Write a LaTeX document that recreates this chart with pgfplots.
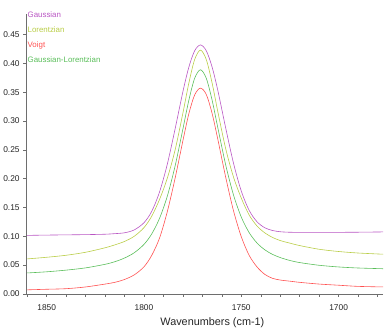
\documentclass[border=0pt]{standalone}
\usepackage{pgfplots}
\pgfplotsset{compat=1.18}
\usepackage{pgfplotstable}
\usepackage{fontspec}
\setmainfont{Liberation Sans}
\definecolor{gausscol}{RGB}{185,85,195}
\definecolor{lorcol}{RGB}{185,205,70}
\definecolor{voigtcol}{RGB}{255,80,80}
\definecolor{glcol}{RGB}{90,190,90}
\definecolor{axcol}{RGB}{110,110,110}

\pgfplotstableread{
x y
1860 0.1015
1850 0.1020
1840 0.1024
1830 0.1028
1820 0.1035
1815 0.1045
1810 0.1060
1805 0.1110
1800 0.1235
1796 0.1434
1792 0.1770
1788 0.2254
1784 0.2866
1780 0.3511
1777 0.3929
1774 0.4217
1771 0.4320
1768 0.4219
1765 0.3935
1762 0.3519
1758 0.2874
1754 0.2265
1750 0.1782
1746 0.1451
1742 0.1254
1738 0.1148
1734 0.1100
1730 0.1078
1725 0.1069
1720 0.1068
1710 0.1068
1700 0.1068
1690 0.1070
1677 0.1075
}\gaussdata

\pgfplotstableread{
x y
1860 0.0607
1850 0.0635
1840 0.0670
1830 0.0722
1820 0.0800
1815 0.0850
1810 0.0910
1805 0.1000
1800 0.1150
1796 0.1350
1792 0.1640
1788 0.2010
1784 0.2500
1780 0.3140
1777 0.3651
1774 0.4064
1771 0.4230
1768 0.4066
1765 0.3657
1762 0.3150
1758 0.2515
1754 0.2025
1750 0.1660
1746 0.1370
1742 0.1180
1738 0.1060
1734 0.0980
1730 0.0925
1725 0.0880
1720 0.0838
1710 0.0774
1700 0.0735
1690 0.0709
1677 0.0688
}\lordata

\pgfplotstableread{
x y
1860 0.0070
1850 0.0080
1840 0.0090
1830 0.0120
1820 0.0170
1815 0.0200
1810 0.0250
1805 0.0330
1800 0.0470
1796 0.0670
1792 0.0970
1788 0.1430
1784 0.2010
1780 0.2660
1777 0.3120
1774 0.3450
1771 0.3570
1768 0.3460
1765 0.3130
1762 0.2670
1758 0.2020
1754 0.1440
1750 0.0990
1746 0.0670
1742 0.0470
1738 0.0340
1734 0.0270
1730 0.0240
1725 0.0220
1720 0.0200
1710 0.0170
1700 0.0150
1690 0.0130
1677 0.0120
}\voigtdata

\pgfplotstableread{
x y
1860 0.0363
1850 0.0383
1840 0.0412
1830 0.0451
1820 0.0513
1815 0.0558
1810 0.0622
1805 0.0714
1800 0.0859
1796 0.1042
1792 0.1312
1788 0.1698
1784 0.2222
1780 0.2863
1777 0.3354
1774 0.3739
1771 0.3889
1768 0.3741
1765 0.3360
1762 0.2871
1758 0.2234
1754 0.1714
1750 0.1331
1746 0.1064
1742 0.0885
1738 0.0766
1734 0.0686
1730 0.0630
1725 0.0579
1720 0.0543
1710 0.0496
1700 0.0467
1690 0.0449
1677 0.0436
}\gldata

\begin{document}
\begin{tikzpicture}
\begin{axis}[
  scale only axis,
  width=362pt, height=284pt,
  x dir=reverse,
  xmin=1677.2, xmax=1860.6,
  ymin=0, ymax=0.486,
  axis x line*=bottom,
  axis y line*=left,
  axis line style={axcol, line width=0.6pt},
  every tick/.style={axcol, line width=0.5pt},
  tick align=outside,
  major tick length=3pt,
  minor tick length=3pt,
  xtick={1700,1750,1800,1850},
  minor xtick={1680,1690,1710,1720,1730,1740,1760,1770,1780,1790,1810,1820,1830,1840,1860},
  ytick={0,0.05,0.10,0.15,0.20,0.25,0.30,0.35,0.40,0.45},
  /pgf/number format/assume math mode=true,
  yticklabel style={/pgf/number format/.cd, fixed, fixed zerofill, precision=2},
  xticklabel style={yshift=-4pt, /pgf/number format/.cd, set thousands separator={}},
  tick label style={font=\fontsize{8.5}{10}\selectfont, text=black!85},
  xlabel={Wavenumbers (cm-1)},
  xlabel style={at={(axis description cs:0.522,0)}, anchor=center, yshift=-29pt, font=\fontsize{11}{13}\selectfont, text=black!85},
  legend style={at={(axis description cs:0.004,1.009)}, anchor=north west, draw=none, fill=none,
    font=\fontsize{8}{9}\selectfont, row sep=7.9pt, inner sep=0pt,
    nodes={inner sep=0pt}},
  legend cell align=left,
  legend image code/.code={},
  every axis plot/.append style={line width=0.6pt},
]
\addplot[gausscol, smooth] table[x=x,y=y]{\gaussdata};
\addlegendentry{\textcolor{gausscol}{Gaussian}}
\addplot[lorcol, smooth] table[x=x,y=y]{\lordata};
\addlegendentry{\textcolor{lorcol}{Lorentzian}}
\addplot[voigtcol, smooth] table[x=x,y=y]{\voigtdata};
\addlegendentry{\textcolor{voigtcol}{Voigt}}
\addplot[glcol, smooth] table[x=x,y=y]{\gldata};
\addlegendentry{\textcolor{glcol}{Gaussian-Lorentzian}}
\end{axis}
\path (current axis.south west) ++(-21pt,-41pt) rectangle ++(385pt,339pt);
\end{tikzpicture}
\end{document}
